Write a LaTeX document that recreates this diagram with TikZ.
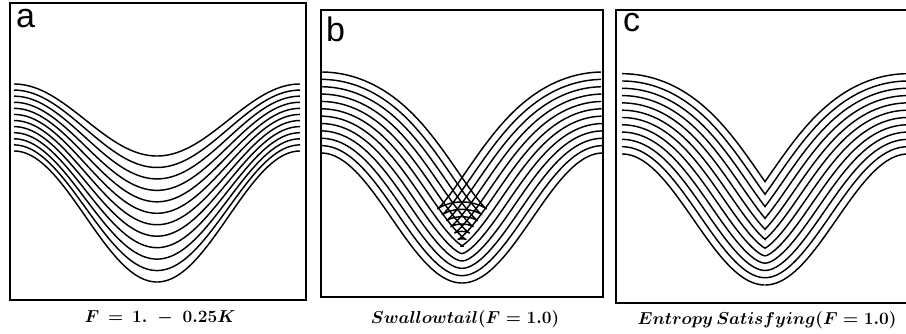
\documentclass[tikz,border=0pt]{standalone}
\usepackage{fontspec}
\newfontfamily\labfont{Liberation Sans}
\begin{document}
\begin{tikzpicture}[x=1pt,y=-1pt,
  curve/.style={line width=1.45pt, line join=round},
  frame/.style={line width=1.3pt},
  panellabel/.style={anchor=base west, inner sep=0pt, font=\labfont\fontsize{34}{34}\selectfont},
  caption/.style={anchor=base, inner sep=0pt, font=\fontsize{18}{20}\selectfont\boldmath}]
\useasboundingbox (0,0) rectangle (906,334);
\clip (0,0) rectangle (906,334);
\fill[white] (0,0) rectangle (906,334);

% ---------- panel a ----------
\draw[frame] (10,3) rectangle (306,300);
\foreach \i in {0,...,11}{
  \pgfmathsetmacro\Ea{151-67*\i/11}
  \pgfmathsetmacro\Aa{131-59*\i/11}
  \draw[curve] plot[domain=14:300, samples=150, variable=\s] (\s, {\Ea+\Aa*(1+cos(1.25874*(\s-157)))/2});
}
\node[panellabel] (la) at (16,28) {a};
\node[caption] (capa) at (160,322) {$F \,=\, 1. \;-\; 0.25K$};

% ---------- panel b ----------
\draw[frame] (321,10) rectangle (603,297);
\def\cxb{462}\def\Wb{141}\def\Eb{153}\def\Ab{130}\def\kb{1.4483}
\foreach \i in {0,...,11}{
  \pgfmathsetmacro\D{81*\i/11}
  \draw[curve] plot[domain=-1:1, samples=401, variable=\t]
   ({\cxb+\Wb*\t+\D*\kb*sin(-180*(\t))/sqrt(1+(\kb*sin(180*(\t)))^2)},
    {\Eb+\Ab*(1+cos(180*(\t)))/2-\D/sqrt(1+(\kb*sin(180*(\t)))^2)});
}
\node[panellabel] (lb) at (326,42) {b};
\node[caption] (capb) at (465,323) {$Swallowtail(F = 1.0)$};

% ---------- panel c ----------
\draw[frame] (616,10) rectangle (915,303);
\def\cxc{765}\def\Wc{143}\def\Ec{154}\def\Ac{131}\def\kc{1.439}
\begin{scope}
  \clip (600,0) rectangle (\cxc,334);
  \foreach \i in {0,...,11}{
    \pgfmathsetmacro\D{80.3*\i/11}
    \draw[curve] plot[domain=-1:0, samples=201, variable=\t]
     ({\cxc+\Wc*\t+\D*\kc*sin(-180*(\t))/sqrt(1+(\kc*sin(180*(\t)))^2)},
      {\Ec+\Ac*(1+cos(180*(\t)))/2-\D/sqrt(1+(\kc*sin(180*(\t)))^2)});
  }
\end{scope}
\begin{scope}
  \clip (\cxc,0) rectangle (930,334);
  \foreach \i in {0,...,11}{
    \pgfmathsetmacro\D{80.3*\i/11}
    \draw[curve] plot[domain=0:1, samples=201, variable=\t]
     ({\cxc+\Wc*\t+\D*\kc*sin(-180*(\t))/sqrt(1+(\kc*sin(180*(\t)))^2)},
      {\Ec+\Ac*(1+cos(180*(\t)))/2-\D/sqrt(1+(\kc*sin(180*(\t)))^2)});
  }
\end{scope}
\node[panellabel] (lc) at (623,32) {c};
\node[caption] (capc) at (767,324) {$Entropy\,Satisfying(F = 1.0)$};
\end{tikzpicture}
\end{document}
